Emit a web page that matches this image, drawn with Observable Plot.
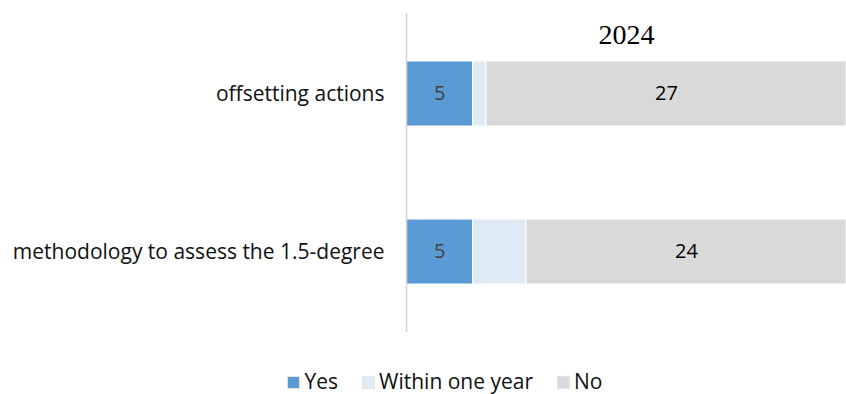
<!DOCTYPE html>
<html>
<head>
<meta charset="utf-8">
<script src="https://cdn.jsdelivr.net/npm/d3@7"></script>
<script src="https://cdn.jsdelivr.net/npm/@observablehq/plot@0.6"></script>
<style>
  body { margin: 0; background: #fff; font-family: "Open Sans", sans-serif; overflow: hidden; }
  #legend { display: flex; justify-content: center; align-items: center; height: 40px; padding-left: 44px; box-sizing: border-box; padding-top: 16px; font-size: 21px; line-height: 1.1; color: #111; }
  .item { display: flex; align-items: center; margin: 0 12px; }
  .sw { width: 13px; height: 13px; margin-right: 4px; box-sizing: border-box; border: 1px solid #e4e4e4; }
</style>
</head>
<body>
<div id="chart"></div>
<div id="legend"></div>
<script>
const categories = ["offsetting actions", "methodology to assess the 1.5-degree"];
const seriesNames = ["Yes", "Within one year", "No"];
const yesValues = [5, 5];
const withinValues = [1, 4];
const noValues = [27, 24];
const colors = ["#5b9bd5", "#deebf7", "#d9d9d9"];
const titleText = "2024";

const seriesValues = [yesValues, withinValues, noValues];
const rows = [];
categories.forEach((c, i) => {
  seriesNames.forEach((s, j) => rows.push({category: c, series: s, value: seriesValues[j][i]}));
});

const chart = Plot.plot({
  width: 846,
  height: 354,
  marginLeft: 406,
  marginRight: 0,
  marginTop: 13,
  marginBottom: 22,
  style: {fontFamily: "'Open Sans', sans-serif", fontSize: "21px", color: "#111", background: "#fff"},
  x: {domain: [0, 33], axis: null},
  y: {domain: categories, paddingInner: 0.59, paddingOuter: 0.3, label: null, tickSize: 0, tickPadding: 22},
  color: {domain: seriesNames, range: colors},
  marks: [
    Plot.barX(rows, Plot.stackX({x: "value", y: "category", fill: "series", order: seriesNames, stroke: "#fff", strokeWidth: 1})),
    Plot.text(rows, Plot.stackX({
      x: "value", y: "category", z: "series", order: seriesNames,
      text: d => d.series === "Within one year" ? null : String(d.value),
      fill: d => d.series === "Yes" ? "#404040" : "#000",
      fontSize: 20
    })),
    Plot.ruleX([0], {stroke: "#d4d4d4", strokeWidth: 1.5}),
    Plot.text([titleText], {frameAnchor: "top", dy: 11, fontSize: 28, fontFamily: "'Liberation Serif', 'Times New Roman', serif", fill: "#000"})
  ]
});
document.getElementById("chart").appendChild(chart);

const legend = document.getElementById("legend");
seriesNames.forEach((s, i) => {
  const item = document.createElement("div");
  item.className = "item";
  const sw = document.createElement("div");
  sw.className = "sw";
  sw.style.background = colors[i];
  item.appendChild(sw);
  const t = document.createElement("span");
  t.textContent = s;
  item.appendChild(t);
  legend.appendChild(item);
});
</script>
</body>
</html>
